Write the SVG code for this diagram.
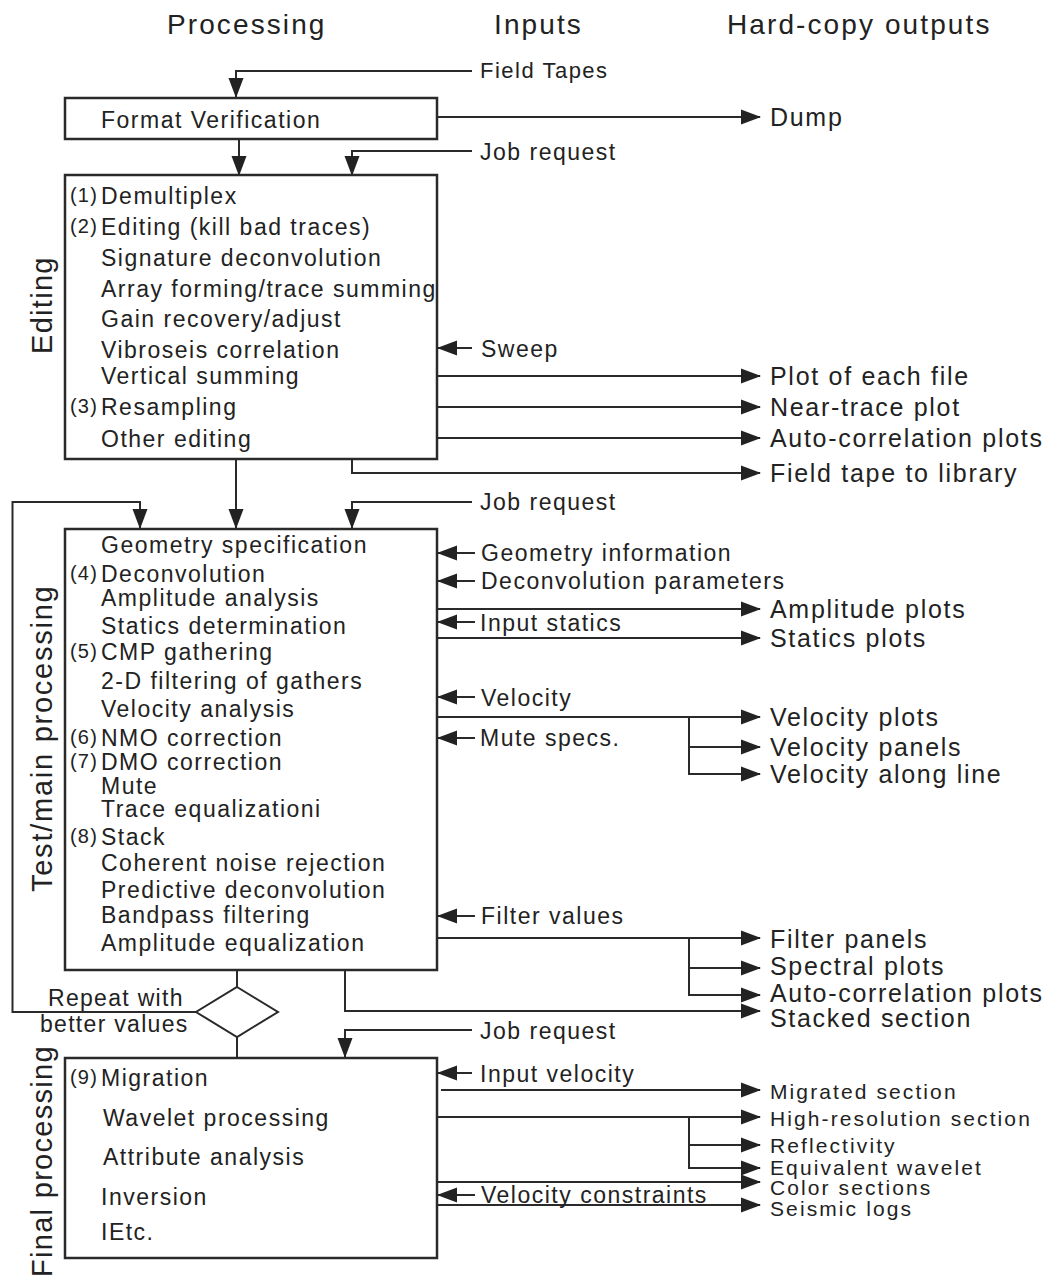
<svg xmlns="http://www.w3.org/2000/svg" width="1061" height="1280" viewBox="0 0 1061 1280">
<defs>
<style>
text{font-family:"Liberation Sans",Arial,sans-serif;fill:#222}
.box{fill:#fff;stroke:#2a2a2a;stroke-width:2.5}
.ln{fill:none;stroke:#2a2a2a;stroke-width:2}
.hd{font-size:28px;letter-spacing:2.1px}
.it{font-size:23px;letter-spacing:1.5px}
.num{font-size:20px;letter-spacing:1.2px}
.in{font-size:23px;letter-spacing:1.5px}
.out{font-size:25px;letter-spacing:1.7px}
.out2{font-size:21px;letter-spacing:2.1px}
.side{font-size:29px;letter-spacing:1.3px}
</style>
<marker id="ah" viewBox="0 0 20 16" markerWidth="20" markerHeight="16" refX="19" refY="8" orient="auto" markerUnits="userSpaceOnUse">
<path d="M0,0.5 L20,8 L0,15.5 Z" fill="#222"/>
</marker>
</defs>
<rect width="1061" height="1280" fill="#fff"/>

<g id="headers">
<text class="hd" x="167" y="34">Processing</text>
<text class="hd" x="494" y="34">Inputs</text>
<text class="hd" x="727" y="34">Hard-copy outputs</text>
</g>

<g id="side-labels">
<text class="side" transform="translate(52,354) rotate(-90)">Editing</text>
<text class="side" transform="translate(52,892) rotate(-90)" textLength="307">Test/main processing</text>
<text class="side" transform="translate(52,1277) rotate(-90)">Final processing</text>
</g>

<g id="connectors">
<path class="ln" d="M472,71 H236 V97" marker-end="url(#ah)"/>
<path class="ln" d="M239,139 V175" marker-end="url(#ah)"/>
<path class="ln" d="M472,151 H352 V175" marker-end="url(#ah)"/>
<path class="ln" d="M437,117 H760" marker-end="url(#ah)"/>
<path class="ln" d="M472,348 H438" marker-end="url(#ah)"/>
<path class="ln" d="M437,376 H760" marker-end="url(#ah)"/>
<path class="ln" d="M437,407 H760" marker-end="url(#ah)"/>
<path class="ln" d="M437,438 H760" marker-end="url(#ah)"/>
<path class="ln" d="M352,459 V473 H760" marker-end="url(#ah)"/>
<path class="ln" d="M236,459 V528" marker-end="url(#ah)"/>
<path class="ln" d="M472,502 H352 V528" marker-end="url(#ah)"/>
<path class="ln" d="M196,1012 H12.5 V502 H140 V528" marker-end="url(#ah)"/>
<path class="ln" d="M475,553 H438" marker-end="url(#ah)"/>
<path class="ln" d="M475,581 H438" marker-end="url(#ah)"/>
<path class="ln" d="M438,609 H760" marker-end="url(#ah)"/>
<path class="ln" d="M475,622 H438" marker-end="url(#ah)"/>
<path class="ln" d="M438,638 H760" marker-end="url(#ah)"/>
<path class="ln" d="M475,697 H438" marker-end="url(#ah)"/>
<path class="ln" d="M438,717 H760" marker-end="url(#ah)"/>
<path class="ln" d="M689,717 V774 H760" marker-end="url(#ah)"/>
<path class="ln" d="M689,747 H760" marker-end="url(#ah)"/>
<path class="ln" d="M475,738 H438" marker-end="url(#ah)"/>
<path class="ln" d="M475,916 H438" marker-end="url(#ah)"/>
<path class="ln" d="M438,938 H760" marker-end="url(#ah)"/>
<path class="ln" d="M689,938 V995 H760" marker-end="url(#ah)"/>
<path class="ln" d="M689,968 H760" marker-end="url(#ah)"/>
<path class="ln" d="M345,970 V1011 H760" marker-end="url(#ah)"/>
<path class="ln" d="M237,970 V987"/>
<path class="ln" d="M237,1037 V1058"/>
<path class="ln" d="M472,1030 H345 V1057" marker-end="url(#ah)"/>
<path class="ln" d="M472,1073 H438" marker-end="url(#ah)"/>
<path class="ln" d="M441,1090 H760" marker-end="url(#ah)"/>
<path class="ln" d="M437,1117 H760" marker-end="url(#ah)"/>
<path class="ln" d="M689,1117 V1168 H760" marker-end="url(#ah)"/>
<path class="ln" d="M689,1145 H760" marker-end="url(#ah)"/>
<path class="ln" d="M437,1182 H760" marker-end="url(#ah)"/>
<path class="ln" d="M475,1195 H438" marker-end="url(#ah)"/>
<path class="ln" d="M437,1205 H760" marker-end="url(#ah)"/>
</g>

<g id="format-verification">
<rect class="box" x="65" y="98" width="372" height="41"/>
<text class="it" x="101" y="128">Format Verification</text>
</g>

<g id="editing-box">
<rect class="box" x="65" y="175" width="372" height="284"/>
<text class="num" x="70" y="202">(1)</text>
<text class="it" x="101" y="204">Demultiplex</text>
<text class="num" x="70" y="233">(2)</text>
<text class="it" x="101" y="235">Editing (kill bad traces)</text>
<text class="it" x="101" y="266">Signature deconvolution</text>
<text class="it" x="101" y="297">Array forming/trace summing</text>
<text class="it" x="101" y="327">Gain recovery/adjust</text>
<text class="it" x="101" y="358">Vibroseis correlation</text>
<text class="it" x="101" y="384">Vertical summing</text>
<text class="num" x="70" y="413">(3)</text>
<text class="it" x="101" y="415">Resampling</text>
<text class="it" x="101" y="447">Other editing</text>
</g>

<g id="main-processing-box">
<rect class="box" x="65" y="529" width="372" height="441"/>
<text class="it" x="101" y="553">Geometry specification</text>
<text class="num" x="70" y="580">(4)</text>
<text class="it" x="101" y="582">Deconvolution</text>
<text class="it" x="101" y="606">Amplitude analysis</text>
<text class="it" x="101" y="634">Statics determination</text>
<text class="num" x="70" y="658">(5)</text>
<text class="it" x="101" y="660">CMP gathering</text>
<text class="it" x="101" y="689">2-D filtering of gathers</text>
<text class="it" x="101" y="717">Velocity analysis</text>
<text class="num" x="70" y="744">(6)</text>
<text class="it" x="101" y="746">NMO correction</text>
<text class="num" x="70" y="768">(7)</text>
<text class="it" x="101" y="770">DMO correction</text>
<text class="it" x="101" y="794">Mute</text>
<text class="it" x="101" y="817">Trace equalizationi</text>
<text class="num" x="70" y="843">(8)</text>
<text class="it" x="101" y="845">Stack</text>
<text class="it" x="101" y="871">Coherent noise rejection</text>
<text class="it" x="101" y="898">Predictive deconvolution</text>
<text class="it" x="101" y="923">Bandpass filtering</text>
<text class="it" x="101" y="951">Amplitude equalization</text>
</g>

<g id="repeat-decision">
<polygon class="box" points="237,987 278,1012 237,1037 196,1012" style="stroke-width:2"/>
<text class="it" x="48" y="1006" style="letter-spacing:1.3px">Repeat with</text>
<text class="it" x="40" y="1032" style="letter-spacing:1.3px">better values</text>
</g>

<g id="final-box">
<rect class="box" x="65" y="1058" width="372" height="200"/>
<text class="num" x="70" y="1084">(9)</text>
<text class="it" x="101" y="1086">Migration</text>
<text class="it" x="103" y="1126">Wavelet processing</text>
<text class="it" x="103" y="1165">Attribute analysis</text>
<text class="it" x="101" y="1205">Inversion</text>
<text class="it" x="101" y="1240">IEtc.</text>
</g>

<g id="inputs">
<text class="in" x="480" y="78" style="font-size:22px">Field Tapes</text>
<text class="in" x="480" y="160">Job request</text>
<text class="in" x="481" y="357">Sweep</text>
<text class="in" x="480" y="510">Job request</text>
<text class="in" x="481" y="561">Geometry information</text>
<text class="in" x="481" y="589">Deconvolution parameters</text>
<text class="in" x="480" y="631">Input statics</text>
<text class="in" x="481" y="706">Velocity</text>
<text class="in" x="480" y="746">Mute specs.</text>
<text class="in" x="481" y="924">Filter values</text>
<text class="in" x="480" y="1039">Job request</text>
<text class="in" x="480" y="1082">Input velocity</text>
<text class="in" x="481" y="1203">Velocity constraints</text>
</g>

<g id="outputs">
<text class="out" x="770" y="126">Dump</text>
<text class="out" x="770" y="385">Plot of each file</text>
<text class="out" x="770" y="416">Near-trace plot</text>
<text class="out" x="770" y="447">Auto-correlation plots</text>
<text class="out" x="770" y="482">Field tape to library</text>
<text class="out" x="770" y="618">Amplitude plots</text>
<text class="out" x="770" y="647">Statics plots</text>
<text class="out" x="770" y="726">Velocity plots</text>
<text class="out" x="770" y="756">Velocity panels</text>
<text class="out" x="770" y="783">Velocity along line</text>
<text class="out" x="770" y="948">Filter panels</text>
<text class="out" x="770" y="975">Spectral plots</text>
<text class="out" x="770" y="1002">Auto-correlation plots</text>
<text class="out" x="770" y="1027">Stacked section</text>
<text class="out2" x="770" y="1099">Migrated section</text>
<text class="out2" x="770" y="1126">High-resolution section</text>
<text class="out2" x="770" y="1153">Reflectivity</text>
<text class="out2" x="770" y="1175">Equivalent wavelet</text>
<text class="out2" x="770" y="1195">Color sections</text>
<text class="out2" x="770" y="1216">Seismic logs</text>
</g>
</svg>
